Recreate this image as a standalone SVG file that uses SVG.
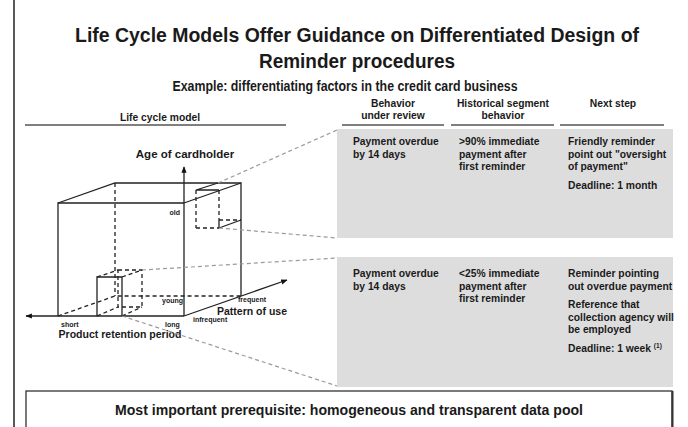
<svg xmlns="http://www.w3.org/2000/svg" width="688" height="427" viewBox="0 0 688 427">
  <defs>
    <marker id="arr" viewBox="0 0 10 10" refX="9" refY="5" markerWidth="5" markerHeight="5" orient="auto-start-reverse">
      <path d="M0,1 L10,5 L0,9 Z" fill="#111"/>
    </marker>
    <style>
      text { font-family: "Liberation Sans", Arial, sans-serif; font-weight: bold; fill: #1a1a1a; }
      .title { font-size: 19.5px; }
      .sub { font-size: 14.5px; }
      .hd { font-size: 10.3px; text-anchor: middle; }
      .cell { font-size: 10.3px; }
      .tiny { font-size: 7px; }
      .axis { font-size: 11.5px; }
      .solid { stroke: #222; stroke-width: 1.3; fill: none; }
      .dash { stroke: #222; stroke-width: 1.3; fill: none; stroke-dasharray: 4 3; }
      .guide { stroke: #9a9a9a; stroke-width: 1.2; fill: none; stroke-dasharray: 4 3; }
      .rule { stroke: #555; stroke-width: 1.6; }
      .panel { fill: #dddddd; }
    </style>
  </defs>

  <rect width="688" height="427" fill="#ffffff"/>
  <line x1="14" y1="0" x2="14" y2="427" stroke="#222" stroke-width="1.5"/>

  <!-- Heading -->
  <g id="heading">
    <text class="title" x="357" y="42" text-anchor="middle" textLength="564" lengthAdjust="spacingAndGlyphs">Life Cycle Models Offer Guidance on Differentiated Design of</text>
    <text class="title" x="357" y="68" text-anchor="middle" textLength="196" lengthAdjust="spacingAndGlyphs">Reminder procedures</text>
    <text class="sub" x="345" y="91" text-anchor="middle" textLength="345" lengthAdjust="spacingAndGlyphs">Example: differentiating factors in the credit card business</text>
  </g>

  <!-- Column headings -->
  <g id="col-lifecycle">
    <text class="hd" x="160" y="121">Life cycle model</text>
    <line class="rule" x1="25" y1="125" x2="286" y2="125"/>
  </g>
  <g id="col-behavior">
    <text class="hd" x="393" y="107">Behavior</text>
    <text class="hd" x="393" y="119">under review</text>
    <line class="rule" x1="342" y1="125" x2="444" y2="125"/>
  </g>
  <g id="col-history">
    <text class="hd" x="503" y="107">Historical segment</text>
    <text class="hd" x="503" y="119">behavior</text>
    <line class="rule" x1="451" y1="125" x2="554" y2="125"/>
  </g>
  <g id="col-next">
    <text class="hd" x="613" y="107">Next step</text>
    <line class="rule" x1="560" y1="125" x2="664" y2="125"/>
  </g>

  <!-- Life cycle cube -->
  <g id="cube">
    <!-- front face -->
    <polyline class="solid" points="58,316 58,203 184,203"/>
    <!-- top face and back right edge -->
    <polyline class="solid" points="58,203 115,183 241,183 241,296"/>
    <line class="solid" x1="184" y1="203" x2="241" y2="183"/>
    <!-- hidden edges -->
    <line class="dash" x1="115" y1="183" x2="115" y2="296"/>
    <polyline class="dash" points="58,316 115,296 241,296"/>
  </g>

  <!-- Axes -->
  <g id="axes">
    <line class="solid" x1="184" y1="316" x2="184" y2="167" marker-end="url(#arr)"/>
    <line class="solid" x1="184" y1="316" x2="26" y2="316" marker-end="url(#arr)"/>
    <line class="solid" x1="184" y1="316" x2="287" y2="280" marker-end="url(#arr)"/>
    <text class="axis" x="185" y="158" text-anchor="middle">Age of cardholder</text>
    <text class="axis" x="120" y="338" text-anchor="middle" textLength="123" lengthAdjust="spacingAndGlyphs">Product retention period</text>
    <text class="axis" x="252" y="315" text-anchor="middle" textLength="70" lengthAdjust="spacingAndGlyphs">Pattern of use</text>
    <text class="tiny" x="180" y="215" text-anchor="end">old</text>
    <text class="tiny" x="183" y="303" text-anchor="end">young</text>
    <text class="tiny" x="238" y="302">frequent</text>
    <text class="tiny" x="193" y="322">infrequent</text>
    <text class="tiny" x="61" y="327">short</text>
    <text class="tiny" x="165" y="327">long</text>
  </g>

  <!-- Segment: old, frequent, long retention -->
  <g id="segment-old">
    <polyline class="solid" points="219,190 196,190 218,183"/>
    <line class="dash" x1="196" y1="190" x2="196" y2="228"/>
    <line class="dash" x1="219" y1="190" x2="219" y2="220"/>
    <line class="solid" x1="219" y1="220" x2="219" y2="228"/>
    <line class="dash" x1="196" y1="228" x2="219" y2="228"/>
    <line class="solid" x1="219" y1="228" x2="241" y2="220"/>
    <line class="dash" x1="219" y1="220" x2="241" y2="220"/>
  </g>

  <!-- Segment: young, infrequent, short retention -->
  <g id="segment-young">
    <polyline class="solid" points="97,316 97,277 122,277 122,316"/>
    <rect class="dash" x="118" y="270" width="24" height="37"/>
    <line class="dash" x1="97" y1="277" x2="118" y2="270"/>
    <line class="dash" x1="122" y1="277" x2="142" y2="270"/>
    <line class="dash" x1="97" y1="316" x2="118" y2="307"/>
    <line class="dash" x1="122" y1="316" x2="142" y2="307"/>
  </g>

  <!-- Segment rows -->
  <g id="row-old">
    <rect class="panel" x="337" y="129" width="336" height="109"/>
    <text class="cell" x="353" y="145">Payment overdue</text>
    <text class="cell" x="353" y="157.5">by 14 days</text>
    <text class="cell" x="459" y="145">&gt;90% immediate</text>
    <text class="cell" x="459" y="157.5">payment after</text>
    <text class="cell" x="459" y="170">first reminder</text>
    <text class="cell" x="568" y="145">Friendly reminder</text>
    <text class="cell" x="568" y="157.5">point out "oversight</text>
    <text class="cell" x="568" y="170">of payment"</text>
    <text class="cell" x="568" y="189">Deadline: 1 month</text>
  </g>
  <g id="row-young">
    <rect class="panel" x="337" y="257" width="336" height="130"/>
    <text class="cell" x="353" y="277">Payment overdue</text>
    <text class="cell" x="353" y="289.5">by 14 days</text>
    <text class="cell" x="459" y="277">&lt;25% immediate</text>
    <text class="cell" x="459" y="289.5">payment after</text>
    <text class="cell" x="459" y="302">first reminder</text>
    <text class="cell" x="568" y="277">Reminder pointing</text>
    <text class="cell" x="568" y="289.5">out overdue payment</text>
    <text class="cell" x="568" y="308">Reference that</text>
    <text class="cell" x="568" y="320.5">collection agency will</text>
    <text class="cell" x="568" y="333">be employed</text>
    <text class="cell" x="568" y="352">Deadline: 1 week <tspan font-size="6.5px" dy="-4">(1)</tspan></text>
  </g>

  <!-- Connectors from segments to rows -->
  <g id="connectors">
    <line class="guide" x1="218" y1="183" x2="337" y2="130"/>
    <line class="guide" x1="219" y1="228" x2="337" y2="238"/>
    <line class="guide" x1="142" y1="270" x2="337" y2="258"/>
    <line class="guide" x1="122" y1="316" x2="337" y2="386"/>
  </g>

  <!-- Prerequisite -->
  <g id="prerequisite">
    <rect x="26" y="391" width="646" height="40" fill="#ffffff" stroke="#333" stroke-width="1.3"/>
    <line x1="672.5" y1="391" x2="672.5" y2="427" stroke="#333" stroke-width="2"/>
    <text x="349" y="415" font-size="14.5px" text-anchor="middle" textLength="468" lengthAdjust="spacingAndGlyphs">Most important prerequisite: homogeneous and transparent data pool</text>
  </g>
</svg>
